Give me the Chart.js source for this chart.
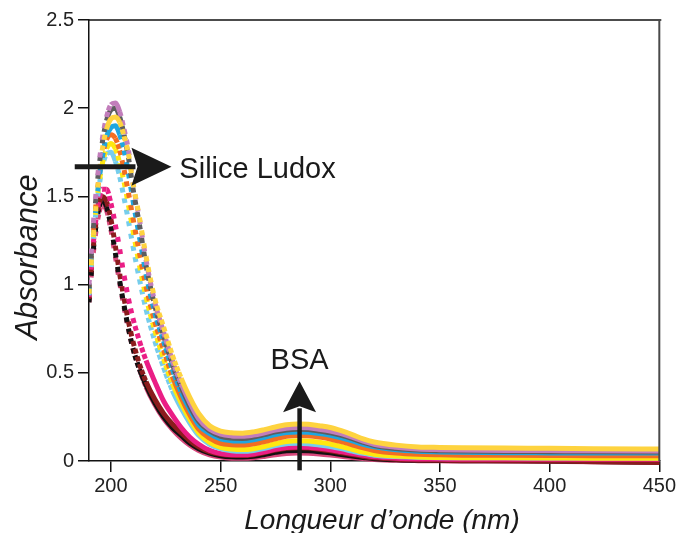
<!DOCTYPE html>
<html>
<head>
<meta charset="utf-8">
<script src="https://cdn.jsdelivr.net/npm/chart.js@4.4.1/dist/chart.umd.min.js"></script>
<style>
  html, body { margin: 0; padding: 0; background: #fff; }
</style>
</head>
<body>
<canvas id="spectra" width="678" height="533"></canvas>
<script>
// wavelengths (nm)
const wavelengths = [190,192,194,196,198,200,202,204,206,208,210,213,216,220,224,228,232,236,240,245,250,255,260,265,270,275,280,285,290,295,300,305,310,315,320,330,340,350,360,380,400,420,450];
const xTicks = [200, 250, 300, 350, 400, 450];
const yTicks = [0, 0.5, 1, 1.5, 2, 2.5];

// absorbance, one array per spectrum (top of the bands first)
const absGold = [0.95,1.28,1.55,1.76,1.88,1.94,1.95,1.92,1.84,1.74,1.58,1.38,1.16,0.92,0.76,0.60,0.47,0.36,0.27,0.20,0.170,0.160,0.158,0.165,0.178,0.193,0.205,0.210,0.208,0.200,0.190,0.172,0.150,0.125,0.108,0.090,0.080,0.077,0.075,0.073,0.072,0.070,0.068];
const absMauve = [1.00,1.35,1.62,1.82,1.95,2.02,2.03,1.98,1.88,1.76,1.58,1.37,1.14,0.90,0.73,0.57,0.44,0.33,0.24,0.18,0.152,0.142,0.140,0.147,0.160,0.175,0.186,0.190,0.188,0.180,0.170,0.155,0.135,0.112,0.095,0.078,0.068,0.064,0.062,0.060,0.059,0.058,0.057];
const absGray = [0.98,1.32,1.60,1.80,1.93,1.99,2.00,1.95,1.85,1.72,1.55,1.34,1.11,0.88,0.71,0.55,0.42,0.31,0.225,0.170,0.140,0.130,0.128,0.136,0.150,0.165,0.176,0.180,0.178,0.170,0.160,0.146,0.127,0.105,0.088,0.071,0.062,0.058,0.056,0.054,0.053,0.052,0.051];
const absBlue = [0.96,1.28,1.53,1.72,1.84,1.89,1.90,1.85,1.76,1.63,1.48,1.27,1.06,0.84,0.68,0.52,0.39,0.29,0.205,0.155,0.125,0.115,0.113,0.120,0.134,0.150,0.161,0.165,0.163,0.156,0.146,0.132,0.114,0.095,0.080,0.063,0.055,0.051,0.049,0.047,0.046,0.045,0.045];
const absOrange = [0.97,1.30,1.55,1.72,1.82,1.85,1.83,1.76,1.65,1.52,1.38,1.18,0.99,0.79,0.63,0.48,0.36,0.26,0.18,0.13,0.100,0.092,0.090,0.097,0.110,0.126,0.140,0.145,0.143,0.136,0.125,0.110,0.092,0.074,0.060,0.045,0.038,0.035,0.033,0.032,0.031,0.030,0.030];
const absYellow = [0.95,1.27,1.52,1.68,1.77,1.80,1.77,1.69,1.58,1.45,1.31,1.11,0.93,0.74,0.58,0.44,0.33,0.235,0.16,0.105,0.078,0.068,0.065,0.070,0.082,0.098,0.110,0.115,0.113,0.106,0.096,0.082,0.066,0.050,0.038,0.028,0.022,0.020,0.019,0.018,0.017,0.016,0.015];
const absSky = [0.94,1.26,1.50,1.66,1.74,1.75,1.70,1.61,1.49,1.36,1.22,1.03,0.86,0.68,0.53,0.40,0.30,0.215,0.145,0.095,0.070,0.058,0.055,0.060,0.072,0.088,0.098,0.100,0.098,0.091,0.082,0.070,0.056,0.043,0.033,0.025,0.021,0.019,0.018,0.018,0.017,0.017,0.016];
const absMagenta = [0.93,1.24,1.44,1.54,1.54,1.46,1.34,1.20,1.05,0.92,0.81,0.68,0.57,0.45,0.34,0.26,0.19,0.135,0.095,0.060,0.042,0.036,0.035,0.040,0.052,0.066,0.076,0.080,0.078,0.072,0.064,0.053,0.042,0.032,0.024,0.016,0.012,0.011,0.010,0.010,0.010,0.010,0.010];
const absDarkRed = [0.92,1.22,1.42,1.50,1.47,1.37,1.22,1.06,0.92,0.79,0.68,0.55,0.45,0.35,0.27,0.21,0.16,0.115,0.080,0.052,0.038,0.032,0.031,0.036,0.048,0.062,0.072,0.075,0.073,0.067,0.058,0.047,0.036,0.026,0.018,0.010,0.006,0.004,0.003,0.002,0.000,-0.004,-0.008];
const absBlack = [0.90,1.20,1.40,1.48,1.44,1.33,1.18,1.02,0.88,0.75,0.64,0.52,0.43,0.33,0.25,0.19,0.145,0.100,0.070,0.045,0.030,0.024,0.023,0.027,0.037,0.049,0.058,0.060,0.058,0.053,0.046,0.037,0.028,0.020,0.013,0.007,0.004,0.003,0.002,0.001,0.000,-0.003,-0.006];
const absPink = [0.90,1.18,1.37,1.45,1.42,1.31,1.16,1.01,0.87,0.75,0.64,0.52,0.42,0.32,0.24,0.18,0.13,0.090,0.060,0.035,0.022,0.016,0.015,0.018,0.026,0.036,0.043,0.045,0.044,0.040,0.034,0.027,0.020,0.014,0.009,0.004,0.002,0.001,0.000,0.000,-0.002,-0.004,-0.006];

const series = [
  [absGold, '#fed33f'],
  [absMauve, '#c27dbb'],
  [absGray, '#5d5d5f'],
  [absBlue, '#1fa6df'],
  [absOrange, '#f26e22'],
  [absYellow, '#ffe710'],
  [absSky, '#76cdec'],
  [absMagenta, '#ea1e85'],
  [absDarkRed, '#8b1c1d'],
  [absBlack, '#111111'],
  [absPink, '#d8497c']
];

const FONT = 'Liberation Sans, Arial, Helvetica, sans-serif';
Chart.defaults.font.family = FONT;

// spectra were recorded every nm: where the curve is steep the squares separate
const dotted = ctx => {
  const dl = wavelengths[ctx.p1DataIndex] - wavelengths[ctx.p0DataIndex];
  const perNm = Math.hypot(ctx.p1.x - ctx.p0.x, ctx.p1.y - ctx.p0.y) / dl;
  const gap = perNm - 5;
  return gap > 1 ? [5, gap] : undefined;
};

function arrow(ctx, x0, y0, x1, y1, headLen, headHalf, shaft) {
  const a = Math.atan2(y1 - y0, x1 - x0);
  const bx = x1 - Math.cos(a) * headLen, by = y1 - Math.sin(a) * headLen;
  ctx.lineWidth = shaft;
  ctx.beginPath(); ctx.moveTo(x0, y0); ctx.lineTo(bx + Math.cos(a) * 4, by + Math.sin(a) * 4); ctx.stroke();
  ctx.beginPath();
  ctx.moveTo(x1, y1);
  ctx.lineTo(bx - Math.sin(a) * headHalf, by + Math.cos(a) * headHalf);
  ctx.lineTo(bx + Math.cos(a) * 6, by + Math.sin(a) * 6);
  ctx.lineTo(bx + Math.sin(a) * headHalf, by - Math.cos(a) * headHalf);
  ctx.closePath(); ctx.fill();
}

const extras = {
  id: 'extras',
  afterDatasetsDraw(chart) {
    const {ctx, chartArea: a, scales: {x, y}} = chart;
    ctx.save();
    // top and right frame
    ctx.strokeStyle = '#111'; ctx.lineWidth = 1.5;
    ctx.beginPath(); ctx.moveTo(a.left, a.top); ctx.lineTo(a.right + 2, a.top); ctx.stroke();
    ctx.strokeStyle = '#4a4a4a'; ctx.lineWidth = 2;
    ctx.beginPath(); ctx.moveTo(a.right, a.top); ctx.lineTo(a.right, a.bottom); ctx.stroke();

    // arrows + labels
    ctx.strokeStyle = '#1a1a1a'; ctx.fillStyle = '#1a1a1a';
    arrow(ctx, x.getPixelForValue(183.5), y.getPixelForValue(1.668),
               x.getPixelForValue(227.6), y.getPixelForValue(1.668), 40, 19, 5);
    arrow(ctx, x.getPixelForValue(286), y.getPixelForValue(-0.053),
               x.getPixelForValue(286), y.getPixelForValue(0.452), 31, 16.5, 4.5);

    ctx.font = '29px ' + FONT;
    ctx.textBaseline = 'alphabetic';
    ctx.textAlign = 'left';
    ctx.fillText('Silice Ludox', x.getPixelForValue(231.2), y.getPixelForValue(1.603));
    ctx.textAlign = 'center';
    ctx.fillText('BSA', x.getPixelForValue(286), y.getPixelForValue(0.52));

    // axis titles
    ctx.font = 'italic 28px ' + FONT;
    ctx.fillText('Longueur d\u2019onde (nm)', 382, 529);
    ctx.translate(37, 257);
    ctx.rotate(-Math.PI / 2);
    ctx.font = 'italic 31px ' + FONT;
    ctx.fillText('Absorbance', 0, 0);
    ctx.restore();
  }
};

const tickFont = {size: 20, family: FONT};

new Chart(document.getElementById('spectra'), {
  type: 'line',
  data: {
    datasets: series.map(([vals, color]) => ({
      data: wavelengths.map((w, i) => ({x: w, y: vals[i]})),
      borderColor: color,
      backgroundColor: color,
      borderWidth: 5,
      borderCapStyle: 'butt',
      pointRadius: 0,
      fill: false,
      cubicInterpolationMode: 'monotone',
      clip: {left: 0, top: 6, right: 3, bottom: 8},
      segment: {borderDash: dotted}
    }))
  },
  options: {
    responsive: false,
    animation: false,
    devicePixelRatio: 1,
    layout: {padding: {top: 20, right: 16, left: 0, bottom: 0}},
    plugins: {legend: {display: false}, tooltip: {enabled: false}},
    scales: {
      x: {
        type: 'linear', min: 190, max: 450,
        afterBuildTicks: s => { s.ticks = xTicks.map(v => ({value: v})); },
        afterFit: s => { s.height = 72; },
        grid: {drawOnChartArea: false, tickLength: 11, color: '#111', lineWidth: 1.5},
        border: {color: '#111', width: 1.5},
        ticks: {font: tickFont, color: '#222', padding: 2, maxRotation: 0, autoSkip: false}
      },
      y: {
        min: 0, max: 2.5,
        afterBuildTicks: s => { s.ticks = yTicks.map(v => ({value: v})); },
        afterFit: s => { s.width = 89; },
        grid: {drawOnChartArea: false, tickLength: 11, color: '#111', lineWidth: 1.5},
        border: {color: '#111', width: 1.5},
        ticks: {font: tickFont, color: '#222', padding: 4, callback: v => String(v)}
      }
    }
  },
  plugins: [extras]
});
</script>
</body>
</html>
